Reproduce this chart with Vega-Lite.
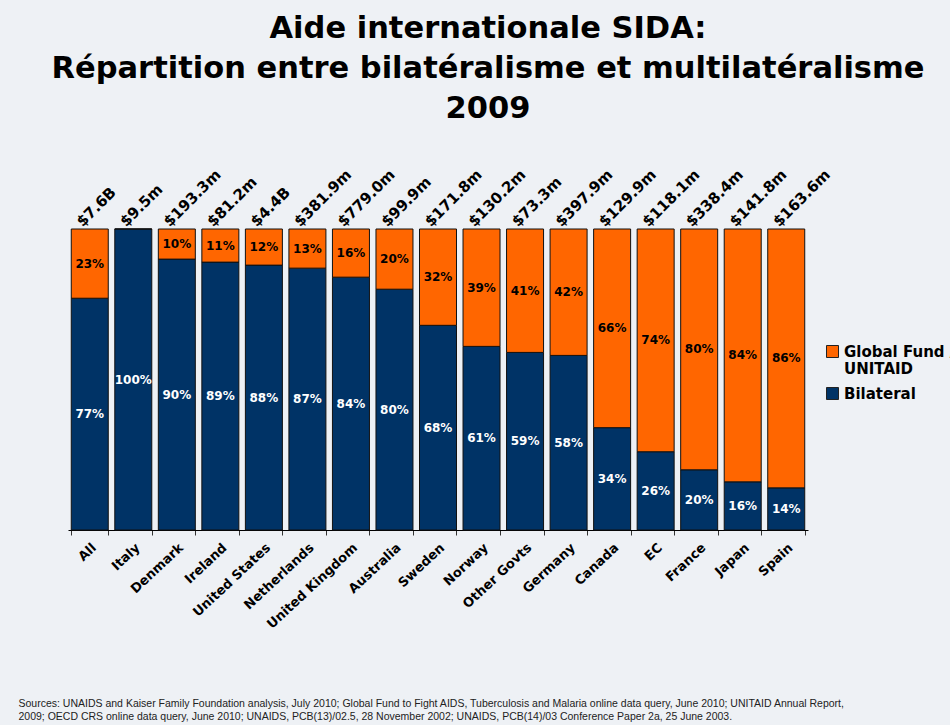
{
  "$schema": "https://vega.github.io/schema/vega-lite/v6.json",
  "width": 740,
  "height": 301,
  "autosize": {"type": "none"},
  "padding": {"left": 68, "top": 229, "right": 142, "bottom": 195},
  "background": "#EEF1F5",
  "config": {"view": {"stroke": null}, "font": "DejaVu Sans"},
  "title": {
    "text": ["Aide internationale SIDA:", "Répartition entre bilatéralisme et multilatéralisme", "2009"],
    "font": "DejaVu Sans",
    "fontSize": 30.5,
    "fontWeight": "bold",
    "lineHeight": 40,
    "anchor": "middle",
    "frame": "group",
    "dx": 50,
    "offset": 43,
    "color": "black"
  },
  "data": {
    "values": [
      {"country": "All", "type": "Bilateral", "share": 0.77, "ord": 1, "total": "$7.6B"},
      {"country": "All", "type": "Global Fund / UNITAID", "share": 0.23, "ord": 2, "total": "$7.6B"},
      {"country": "Italy", "type": "Bilateral", "share": 1.0, "ord": 1, "total": "$9.5m"},
      {"country": "Italy", "type": "Global Fund / UNITAID", "share": 0.0, "ord": 2, "total": "$9.5m"},
      {"country": "Denmark", "type": "Bilateral", "share": 0.90, "ord": 1, "total": "$193.3m"},
      {"country": "Denmark", "type": "Global Fund / UNITAID", "share": 0.10, "ord": 2, "total": "$193.3m"},
      {"country": "Ireland", "type": "Bilateral", "share": 0.89, "ord": 1, "total": "$81.2m"},
      {"country": "Ireland", "type": "Global Fund / UNITAID", "share": 0.11, "ord": 2, "total": "$81.2m"},
      {"country": "United States", "type": "Bilateral", "share": 0.88, "ord": 1, "total": "$4.4B"},
      {"country": "United States", "type": "Global Fund / UNITAID", "share": 0.12, "ord": 2, "total": "$4.4B"},
      {"country": "Netherlands", "type": "Bilateral", "share": 0.87, "ord": 1, "total": "$381.9m"},
      {"country": "Netherlands", "type": "Global Fund / UNITAID", "share": 0.13, "ord": 2, "total": "$381.9m"},
      {"country": "United Kingdom", "type": "Bilateral", "share": 0.84, "ord": 1, "total": "$779.0m"},
      {"country": "United Kingdom", "type": "Global Fund / UNITAID", "share": 0.16, "ord": 2, "total": "$779.0m"},
      {"country": "Australia", "type": "Bilateral", "share": 0.80, "ord": 1, "total": "$99.9m"},
      {"country": "Australia", "type": "Global Fund / UNITAID", "share": 0.20, "ord": 2, "total": "$99.9m"},
      {"country": "Sweden", "type": "Bilateral", "share": 0.68, "ord": 1, "total": "$171.8m"},
      {"country": "Sweden", "type": "Global Fund / UNITAID", "share": 0.32, "ord": 2, "total": "$171.8m"},
      {"country": "Norway", "type": "Bilateral", "share": 0.61, "ord": 1, "total": "$130.2m"},
      {"country": "Norway", "type": "Global Fund / UNITAID", "share": 0.39, "ord": 2, "total": "$130.2m"},
      {"country": "Other Govts", "type": "Bilateral", "share": 0.59, "ord": 1, "total": "$73.3m"},
      {"country": "Other Govts", "type": "Global Fund / UNITAID", "share": 0.41, "ord": 2, "total": "$73.3m"},
      {"country": "Germany", "type": "Bilateral", "share": 0.58, "ord": 1, "total": "$397.9m"},
      {"country": "Germany", "type": "Global Fund / UNITAID", "share": 0.42, "ord": 2, "total": "$397.9m"},
      {"country": "Canada", "type": "Bilateral", "share": 0.34, "ord": 1, "total": "$129.9m"},
      {"country": "Canada", "type": "Global Fund / UNITAID", "share": 0.66, "ord": 2, "total": "$129.9m"},
      {"country": "EC", "type": "Bilateral", "share": 0.26, "ord": 1, "total": "$118.1m"},
      {"country": "EC", "type": "Global Fund / UNITAID", "share": 0.74, "ord": 2, "total": "$118.1m"},
      {"country": "France", "type": "Bilateral", "share": 0.20, "ord": 1, "total": "$338.4m"},
      {"country": "France", "type": "Global Fund / UNITAID", "share": 0.80, "ord": 2, "total": "$338.4m"},
      {"country": "Japan", "type": "Bilateral", "share": 0.16, "ord": 1, "total": "$141.8m"},
      {"country": "Japan", "type": "Global Fund / UNITAID", "share": 0.84, "ord": 2, "total": "$141.8m"},
      {"country": "Spain", "type": "Bilateral", "share": 0.14, "ord": 1, "total": "$163.6m"},
      {"country": "Spain", "type": "Global Fund / UNITAID", "share": 0.86, "ord": 2, "total": "$163.6m"}
    ]
  },
  "encoding": {
    "x": {
      "field": "country",
      "type": "nominal",
      "sort": null,
      "scale": {"paddingInner": 0.15, "paddingOuter": 0.075},
      "axis": {
        "labelAngle": -43,
        "labelFont": "DejaVu Sans",
        "labelFontSize": 13,
        "labelFontWeight": "bold",
        "labelColor": "black",
        "labelPadding": 6,
        "tickBand": "extent",
        "tickColor": "#333333",
        "tickSize": 5,
        "domainColor": "#000000",
        "title": [
          "Sources: UNAIDS and Kaiser Family Foundation analysis, July 2010; Global Fund to Fight AIDS, Tuberculosis and Malaria online data query, June 2010; UNITAID Annual Report,",
          "2009; OECD CRS online data query, June 2010; UNAIDS, PCB(13)/02.5, 28 November 2002; UNAIDS, PCB(14)/03 Conference Paper 2a, 25 June 2003."
        ],
        "titleFont": "Liberation Sans",
        "titleFontSize": 10.5,
        "titleFontWeight": "normal",
        "titleColor": "#222222",
        "titleAlign": "left",
        "titleAnchor": "start",
        "titleBaseline": "alphabetic",
        "titleLineHeight": 13,
        "titleX": -50,
        "titleY": 176
      }
    }
  },
  "layer": [
    {
      "mark": {"type": "bar", "stroke": "#111111", "strokeWidth": 1},
      "encoding": {
        "y": {"field": "share", "type": "quantitative", "stack": "zero", "scale": {"domain": [0, 1]}, "axis": null},
        "color": {
          "field": "type",
          "type": "nominal",
          "scale": {"domain": ["Global Fund / UNITAID", "Bilateral"], "range": ["#FF6600", "#003366"]},
          "legend": {
            "title": null,
            "orient": "none",
            "legendX": 757,
            "legendY": 115,
            "labelFont": "DejaVu Sans",
            "labelFontSize": 15,
            "labelFontWeight": "bold",
            "labelColor": "black",
            "labelLimit": 300,
            "labelExpr": "datum.label == 'Global Fund / UNITAID' ? ['Global Fund /', 'UNITAID'] : datum.label",
            "symbolType": "square",
            "symbolSize": 144,
            "symbolStrokeColor": "#222222",
            "symbolStrokeWidth": 1,
            "rowPadding": 8
          }
        },
        "order": {"field": "ord", "type": "quantitative"}
      }
    },
    {
      "transform": [{"filter": "datum.share > 0"}],
      "mark": {"type": "text", "fontWeight": "bold", "fontSize": 12, "font": "DejaVu Sans"},
      "encoding": {
        "y": {"field": "share", "type": "quantitative", "stack": "zero", "bandPosition": 0.5},
        "order": {"field": "ord", "type": "quantitative"},
        "text": {"field": "share", "type": "quantitative", "format": ".0%"},
        "color": {"condition": {"test": "datum.type == 'Bilateral'", "value": "white"}, "value": "black"}
      }
    },
    {
      "transform": [{"filter": "datum.type == 'Bilateral'"}],
      "mark": {"type": "text", "angle": -45, "align": "left", "baseline": "alphabetic", "fontSize": 15, "fontWeight": "bold", "font": "DejaVu Sans", "dx": -4, "dy": -6, "color": "black"},
      "encoding": {
        "y": {"datum": 1, "type": "quantitative"},
        "text": {"field": "total"}
      }
    }
  ]
}
